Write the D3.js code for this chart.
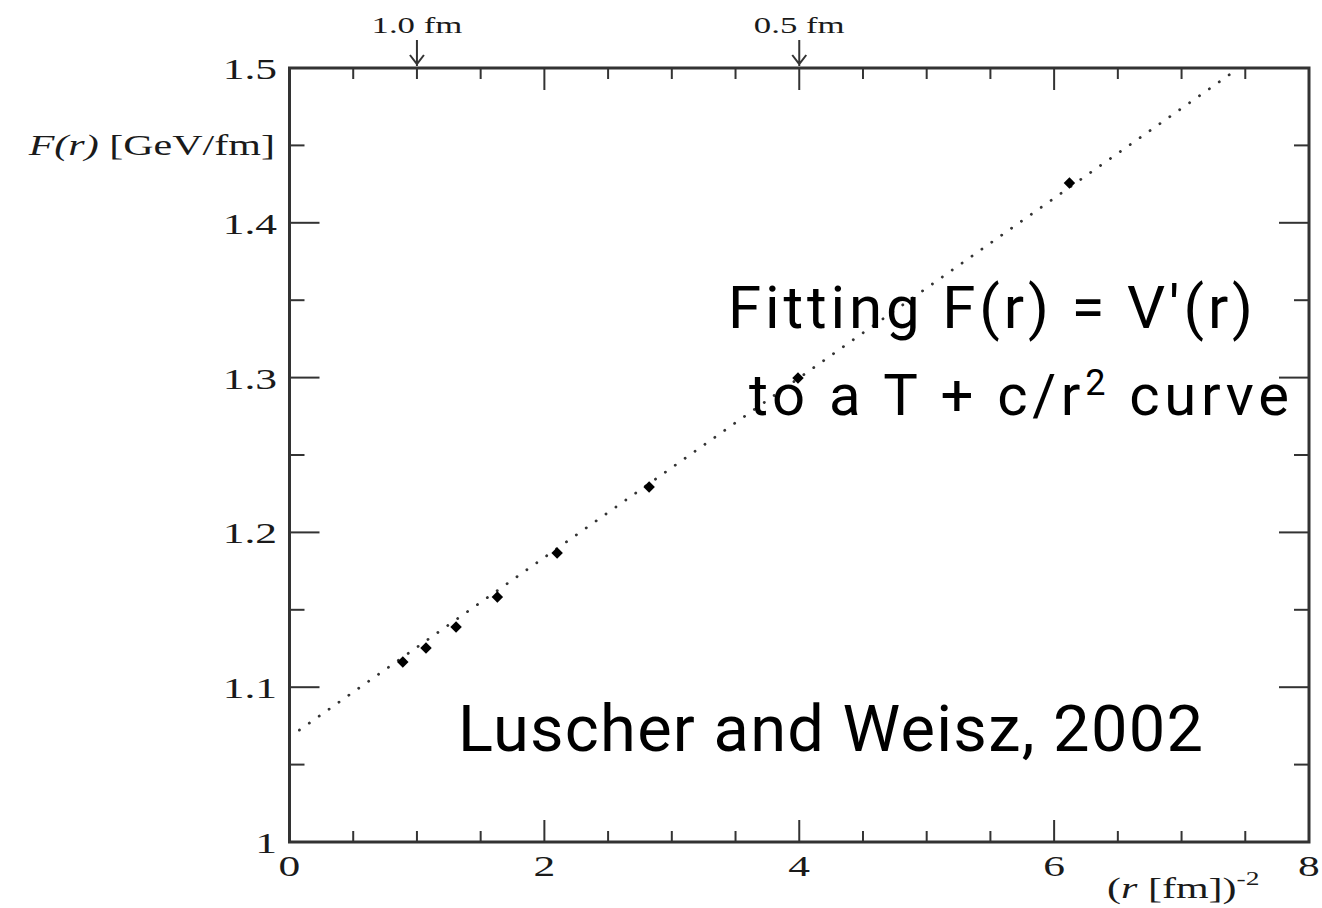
<!DOCTYPE html>
<html>
<head>
<meta charset="utf-8">
<script src="https://cdn.jsdelivr.net/npm/d3@7"></script>
<style>
  body { margin: 0; background: #fff; }
</style>
</head>
<body>
<div id="chart"></div>
<script>
// data
const rInvSq = [0.889, 1.071, 1.307, 1.631, 2.10, 2.822, 3.99, 6.12];
const force = [1.1163, 1.1253, 1.1389, 1.1583, 1.1867, 1.2293, 1.2997, 1.4257];
const fitX = [0, 7.45];
const fitY = [1.0678, 1.5];

const xTicks = [0, 2, 4, 6, 8];
const xTickLabels = ['0', '2', '4', '6', '8'];
const yTicks = [1, 1.1, 1.2, 1.3, 1.4, 1.5];
const yTickLabels = ['1', '1.1', '1.2', '1.3', '1.4', '1.5'];
const topMarks = [1, 4];
const topLabels = ['1.0 fm', '0.5 fm'];

const W = 1322, H = 908;
const SX = 1.45; // the original figure is stretched sideways
const serif = '"Liberation Serif", "Times New Roman", serif';
const sans = 'Roboto, "Liberation Sans", Arial, sans-serif';
const axisColor = '#333';

const svg = d3.select('#chart').append('svg')
    .attr('width', W)
    .attr('height', H)
    .style('background', '#fff');

const xScale = d3.scaleLinear().domain([0, 8]).range([289.5, 1309]);
const yScale = d3.scaleLinear().domain([1, 1.5]).range([842, 68]);

const x0 = xScale(0), x1 = xScale(8), y0 = yScale(1), y1 = yScale(1.5);

// minor tick positions
const xMinor = d3.range(0.5, 8, 0.5).filter(v => v % 2 !== 0);
const xMajor = [2, 4, 6];
const yMinor = d3.range(1.05, 1.5, 0.1);
const yMajor = [1.1, 1.2, 1.3, 1.4];

const ticks = svg.append('g')
    .attr('stroke', axisColor)
    .attr('stroke-width', 2);

// bottom + top ticks (pointing in)
for (const v of xMinor.concat(xMajor)) {
    const len = xMajor.includes(v) ? 22 : 11;
    ticks.append('line')
        .attr('x1', xScale(v)).attr('x2', xScale(v))
        .attr('y1', y0).attr('y2', y0 - len);
    ticks.append('line')
        .attr('x1', xScale(v)).attr('x2', xScale(v))
        .attr('y1', y1).attr('y2', y1 + len);
}

// left + right ticks
for (const v of yMinor.concat(yMajor)) {
    const len = yMajor.includes(v) ? 30 : 15;
    ticks.append('line')
        .attr('x1', x0).attr('x2', x0 + len)
        .attr('y1', yScale(v)).attr('y2', yScale(v));
    ticks.append('line')
        .attr('x1', x1).attr('x2', x1 - len)
        .attr('y1', yScale(v)).attr('y2', yScale(v));
}

// frame
svg.append('rect')
    .attr('x', x0)
    .attr('y', y1)
    .attr('width', x1 - x0)
    .attr('height', y0 - y1)
    .attr('fill', 'none')
    .attr('stroke', axisColor)
    .attr('stroke-width', 3);

const serifText = (x, y, anchor, size) => svg.append('text')
    .attr('transform', `translate(${x},${y}) scale(${SX},1)`)
    .attr('text-anchor', anchor)
    .style('font-family', serif)
    .style('font-size', size + 'px')
    .attr('fill', '#1a1a1a');

// tick labels
yTicks.forEach((v, i) => {
    serifText(277, yScale(v) + 11, 'end', 30).text(yTickLabels[i]);
});
xTicks.forEach((v, i) => {
    serifText(xScale(v), 876, 'middle', 30).text(xTickLabels[i]);
});

// axis titles
const yTitle = serifText(275, 155, 'end', 29);
yTitle.append('tspan').style('font-style', 'italic').text('F(r)');
yTitle.append('tspan').text(' [GeV/fm]');

const xTitle = serifText(1107, 898, 'start', 29);
xTitle.append('tspan').text('(');
xTitle.append('tspan').style('font-style', 'italic').text('r');
xTitle.append('tspan').text(' [fm])');
xTitle.append('tspan').attr('dy', -13).style('font-size', '19px').text('-2');

// top markers with arrows
topMarks.forEach((v, i) => {
    const cx = xScale(v);
    serifText(cx, 33, 'middle', 24).text(topLabels[i]);
    svg.append('path')
        .attr('d', `M${cx},40 L${cx},66 M${cx - 7},55 L${cx},64 L${cx + 7},55`)
        .attr('fill', 'none')
        .attr('stroke', axisColor)
        .attr('stroke-width', 2);
});

// fitted line, dotted
const line = d3.line()
    .x(d => xScale(d[0]))
    .y(d => yScale(d[1]));

svg.append('path')
    .attr('d', line(d3.zip(fitX, fitY)))
    .attr('fill', 'none')
    .attr('stroke', '#333')
    .attr('stroke-width', 2.8)
    .attr('stroke-linecap', 'round')
    .attr('stroke-dasharray', '0.1,12');

// data points
svg.append('g')
    .selectAll('path')
    .data(d3.zip(rInvSq, force))
    .join('path')
    .attr('d', d3.symbol(d3.symbolSquare, 66))
    .attr('transform', d => `translate(${xScale(d[0])},${yScale(d[1])}) rotate(45)`)
    .attr('fill', '#000');

// annotations
svg.append('text')
    .attr('x', 728)
    .attr('y', 328)
    .attr('textLength', 525)
    .attr('lengthAdjust', 'spacing')
    .style('font-family', sans)
    .style('font-size', '60px')
    .attr('fill', '#000')
    .text('Fitting F(r) = V\u2032(r)');

const note2 = svg.append('text')
    .attr('x', 749)
    .attr('y', 415)
    .attr('textLength', 540)
    .attr('lengthAdjust', 'spacing')
    .style('font-family', sans)
    .style('font-size', '58px')
    .attr('fill', '#000');
note2.append('tspan').text('to a T + c/r');
note2.append('tspan').attr('dy', -20).style('font-size', '36px').text('2');
note2.append('tspan').attr('dy', 20).text(' curve');

svg.append('text')
    .attr('x', 458)
    .attr('y', 751)
    .attr('textLength', 745)
    .attr('lengthAdjust', 'spacing')
    .style('font-family', sans)
    .style('font-size', '65px')
    .attr('fill', '#000')
    .text('Luscher and Weisz, 2002');
</script>
</body>
</html>
